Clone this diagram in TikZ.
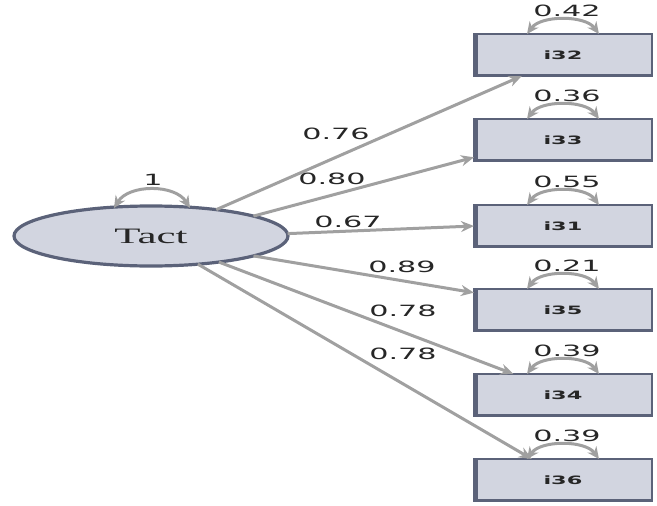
\documentclass[tikz,border=0pt]{standalone}
\usepackage{fontspec}
\usepackage{graphicx}
\usetikzlibrary{arrows.meta,calc,shapes.geometric}
\setmainfont{Liberation Serif}
\newfontfamily\numfont{DejaVu Sans}
\newcommand{\stretchx}[1]{\scalebox{1.95}[1]{#1}}
\definecolor{nodefill}{HTML}{D2D5E0}
\definecolor{nodeline}{HTML}{5B6279}
\definecolor{arrowgray}{HTML}{A0A0A0}
\definecolor{txt}{HTML}{262626}
\tikzset{
  latent/.style={ellipse, fill=nodefill, draw=nodeline, line width=3.2pt,
    minimum width=274pt, minimum height=60pt, inner sep=0pt, outer sep=0pt,
    text=txt, font=\fontsize{22}{22}\selectfont},
  itembox/.style={rectangle, fill=nodefill, draw=nodeline, line width=2.4pt,
    minimum width=178pt, minimum height=42pt, inner sep=0pt, outer sep=0pt,
    text=txt, font=\numfont\bfseries\fontsize{11.5}{11.5}\selectfont},
  edgelabel/.style={text=txt, inner sep=0pt, font=\numfont\fontsize{15.5}{15.5}\selectfont},
  loading/.style={draw=arrowgray, line width=3pt, -{Stealth[length=13pt,width=11pt]}},
  variance/.style={draw=arrowgray, line width=3pt, {Stealth[length=12pt,width=11pt]}-{Stealth[length=12pt,width=11pt]}},
  leftedge/.style={draw=nodeline, line width=5.5pt}
}
\begin{document}
\begin{tikzpicture}[x=1pt,y=-1pt]
\useasboundingbox (0,0) rectangle (657,506);
% latent
\node[latent] (tact) at (151,236) {\stretchx{Tact}};
% items
\node[itembox] (i32) at (563,55) {\stretchx{i32}};
\node[itembox] (i33) at (563,140) {\stretchx{i33}};
\node[itembox] (i31) at (563,226) {\stretchx{i31}};
\node[itembox] (i35) at (563,310) {\stretchx{i35}};
\node[itembox] (i34) at (563,395) {\stretchx{i34}};
\node[itembox] (i36) at (563,480) {\stretchx{i36}};
\foreach \n in {i32,i33,i31,i35,i34,i36}{
  \draw[leftedge] ($(\n.north west)+(1.5,0)$) -- ($(\n.south west)+(1.5,0)$);
  \draw[draw=nodeline, line width=3.5pt] ($(\n.south west)+(0,-0.5)$) -- ($(\n.south east)+(0,-0.5)$);
}
% loadings
\draw[loading] (tact.22) -- (i32.207);
\draw[loading] (tact.11) -- (i33.191);
\draw[loading] (tact.1) -- (i31.west);
\draw[loading] (tact.-11) -- (i35.169);
\draw[loading] (tact.-21) -- (i34.157);
\draw[loading] (tact.-31) -- (i36.146);
% loading labels
\node[edgelabel] (l32) at (336,134) {\stretchx{0.76}};
\node[edgelabel] (l33) at (332,179) {\stretchx{0.80}};
\node[edgelabel] (l31) at (348,222) {\stretchx{0.67}};
\node[edgelabel] (l35) at (402,267) {\stretchx{0.89}};
\node[edgelabel] (l34) at (403,311) {\stretchx{0.78}};
\node[edgelabel] (l36) at (403,354) {\stretchx{0.78}};
% variances
\foreach \n/\v in {i32/0.42,i33/0.36,i31/0.55,i35/0.21,i34/0.39,i36/0.39}{
  \draw[variance] ($(\n.north)+(-36,0)$) .. controls ($(\n.north)+(-22,-19)$) and ($(\n.north)+(22,-19)$) .. ($(\n.north)+(36,0)$);
  \node[edgelabel] (v\n) at ($(\n.north)+(4,-23)$) {\stretchx{\v}};
}
\draw[variance] ($(tact.north)+(-37,2)$) .. controls ($(tact.north)+(-22,-22)$) and ($(tact.north)+(24,-22)$) .. ($(tact.north)+(39,2)$);
\node[edgelabel] (vtact) at (153,180) {\stretchx{1}};
\end{tikzpicture}
\end{document}
